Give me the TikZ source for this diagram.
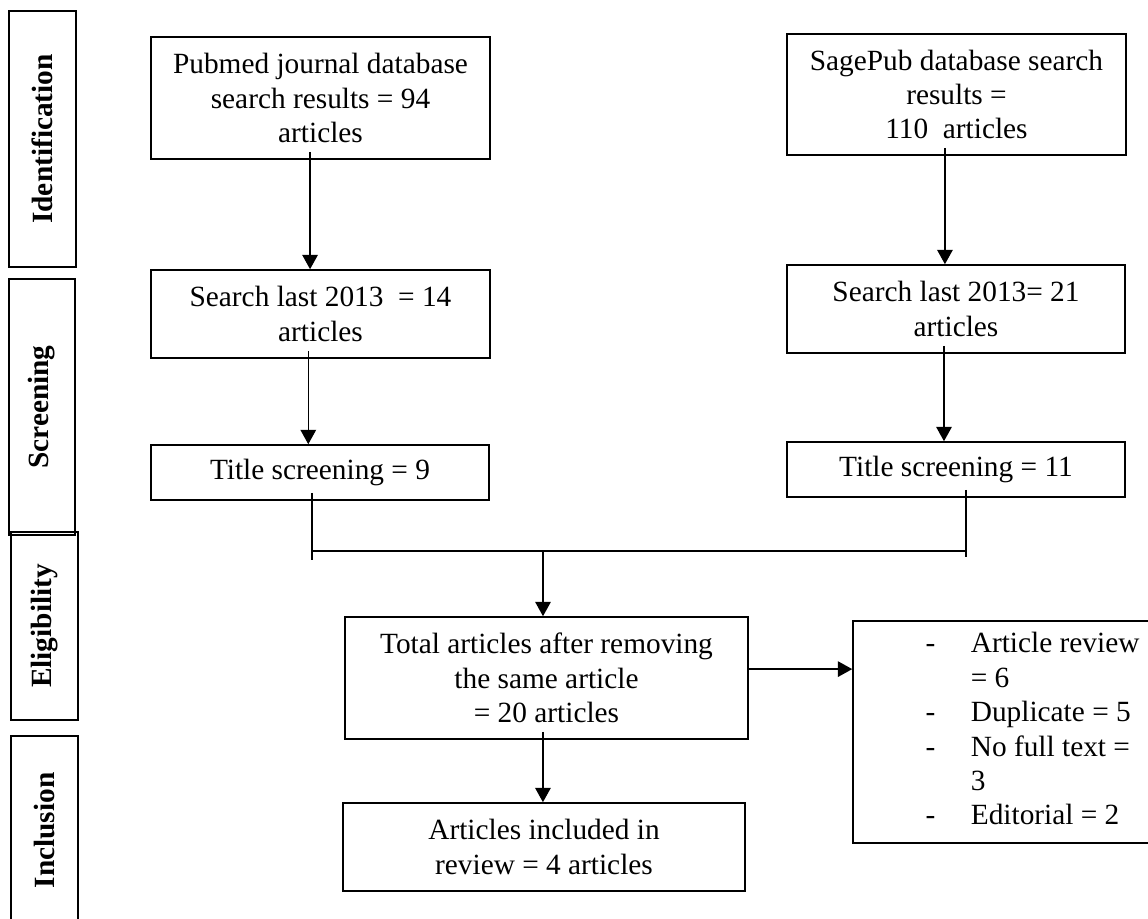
\documentclass[tikz,border=0pt]{standalone}
\usepackage{fontspec}
\setmainfont{Liberation Serif}
\usetikzlibrary{arrows.meta}

\tikzset{
	stepbox/.style={draw=black, line width=0.7pt, inner sep=0pt, align=center, font=\fontsize{13.2}{15.5}\selectfont},
	phasebox/.style={draw=black, line width=0.7pt, inner sep=0pt, rotate=90, font=\fontsize{13.2}{15}\selectfont\bfseries},
	flowline/.style={line width=0.7pt},
	flowarrow/.style={flowline, -{Triangle[length=6.5pt,width=7pt]}}
}

\begin{document}
\begin{tikzpicture}[x=0.45pt, y=-0.45pt]
	\useasboundingbox (0,0) rectangle (1148,919);

	%phase labels
	\node[phasebox, minimum width=115.2pt, minimum height=30.15pt] (Ident) at (42.5,139) {Identification};
	\node[phasebox, minimum width=115.2pt, minimum height=29.7pt] (Screen) at (42,407) {Screening};
	\node[phasebox, minimum width=84.6pt, minimum height=30.15pt] (Elig) at (44.5,626) {Eligibility};
	\node[phasebox, minimum width=85.05pt, minimum height=30.15pt] (Incl) at (44.5,830.5) {Inclusion};

	%pubmed branch
	\node[stepbox, minimum width=152.55pt, minimum height=54.9pt] (Pubmed) at (320.5,98) {Pubmed journal database\\search results = 94\\articles};
	\node[stepbox, minimum width=152.55pt, minimum height=39.6pt] (PubSearch) at (320.5,314) {Search last 2013~ = 14\\articles};
	\node[stepbox, minimum width=152.1pt, minimum height=24.75pt] (PubTitle) at (320,472.5) {Title screening = 9};

	%sagepub branch
	\node[stepbox, minimum width=152.55pt, minimum height=54.45pt] (SagePub) at (956.5,94.5) {SagePub database search\\results =\\110~ articles};
	\node[stepbox, minimum width=152.1pt, minimum height=39.6pt] (SageSearch) at (956,309) {Search last 2013= 21\\articles};
	\node[stepbox, minimum width=152.1pt, minimum height=24.75pt] (SageTitle) at (956,469.5) {Title screening = 11};

	%merged results
	\node[stepbox, minimum width=181.35pt, minimum height=54.9pt] (Total) at (546.5,678) {Total articles after removing\\the same article\\= 20 articles};
	\node[stepbox, minimum width=180.9pt, minimum height=39.6pt] (Included) at (544,847) {Articles included in\\review = 4 articles};

	%excluded articles
	\node[stepbox, minimum width=134.55pt, minimum height=99.9pt] (Excl) at (1002.5,732) {\begin{tabular}{@{\hspace{27pt}}c@{\hspace{16pt}}l@{}}
		- & Article review\\
		  & = 6\\
		- & Duplicate = 5\\
		- & No full text =\\
		  & 3\\
		- & Editorial = 2
	\end{tabular}};

	%arrows down each branch
	\draw[flowarrow, shorten <=-3.6pt] ([xshift=-4.7pt]Pubmed.south) -- ([xshift=-4.7pt]Pubmed.south |- PubSearch.north);
	\draw[flowarrow, shorten <=-3.6pt] ([xshift=-5.5pt]PubSearch.south) -- ([xshift=-5.5pt]PubSearch.south |- PubTitle.north);
	\draw[flowarrow, shorten <=-3.6pt] ([xshift=-5.2pt]SagePub.south) -- ([xshift=-5.2pt]SagePub.south |- SageSearch.north);
	\draw[flowarrow, shorten <=-3.6pt] ([xshift=-5.4pt]SageSearch.south) -- ([xshift=-5.4pt]SageSearch.south |- SageTitle.north);

	%joining line
	\coordinate (Merge) at (543,551);
	\draw[flowline] ([xshift=-3.6pt,yshift=3.6pt]PubTitle.south) -- ++(0,67);
	\draw[flowline] ([xshift=4.5pt,yshift=3.6pt]SageTitle.south) -- ++(0,67);
	\draw[flowline] ([xshift=-3.6pt]PubTitle.south |- Merge) -- ([xshift=4.5pt]SageTitle.south |- Merge);
	\draw[flowarrow] (Merge) -- (Merge |- Total.north);

	%to inclusion and exclusion
	\draw[flowarrow, shorten <=-3.6pt] ([xshift=-1.6pt]Total.south) -- ([xshift=-1.6pt]Total.south |- Included.north);
	\draw[flowarrow] ([yshift=4pt]Total.east) -- ([yshift=4pt]Total.east -| Excl.west);
\end{tikzpicture}
\end{document}
